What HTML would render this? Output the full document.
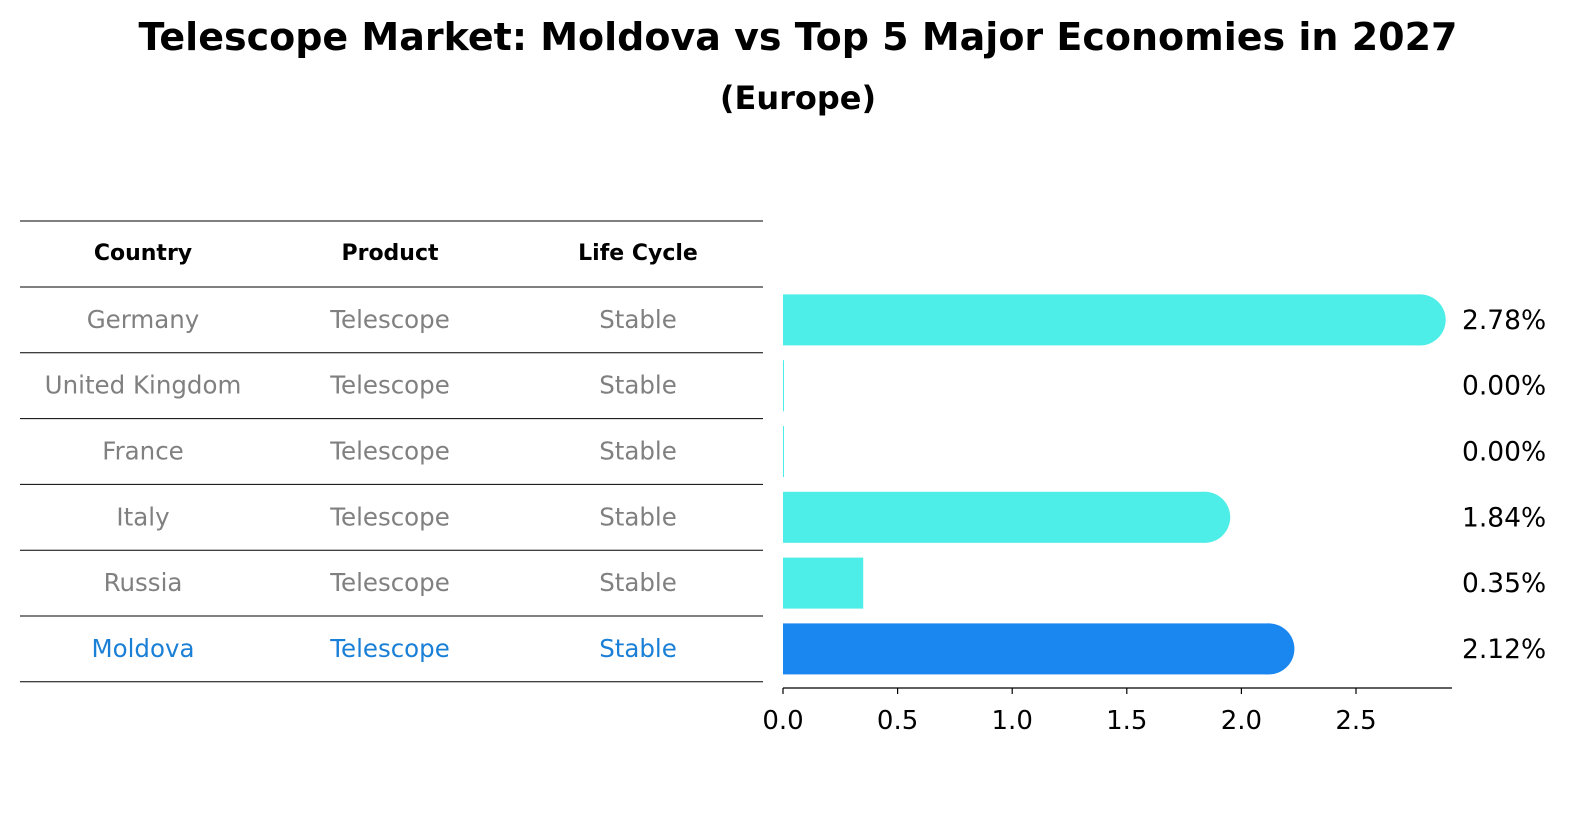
<!DOCTYPE html>
<html><head><meta charset="utf-8">
<style>
html,body{margin:0;padding:0;width:1586px;height:823px;overflow:hidden;background:#fff;font-family:"DejaVu Sans","Liberation Sans",sans-serif;}
svg{display:block}
</style></head>
<body>
<svg width="1586" height="823" viewBox="0 0 1586 823">
<text x="798" y="50" text-anchor="middle" font-size="38" font-weight="bold" font-family="DejaVu Sans, sans-serif">Telescope Market: Moldova vs Top 5 Major Economies in 2027</text>
<text x="798" y="109" text-anchor="middle" font-size="32" font-weight="bold" font-family="DejaVu Sans, sans-serif">(Europe)</text>
<g id="table"></g>
<g id="bars"></g>
</svg>
<script>
const countries=["Germany","United Kingdom","France","Italy","Russia","Moldova"];
const products=["Telescope","Telescope","Telescope","Telescope","Telescope","Telescope"];
const lifecycles=["Stable","Stable","Stable","Stable","Stable","Stable"];
const values=[2.78,0.00,0.00,1.84,0.35,2.12];
const ticks=[0.0,0.5,1.0,1.5,2.0,2.5];
const NS="http://www.w3.org/2000/svg";
function mk(tag,attrs,parent,txt){const e=document.createElementNS(NS,tag);for(const k in attrs)e.setAttribute(k,attrs[k]);if(txt!==undefined)e.textContent=txt;parent.appendChild(e);return e;}
const x0=783,pxPerUnit=229.2;
const xs=v=>x0+v*pxPerUnit;
const rowTop=287,rowH=65.8;
const yc=i=>rowTop+rowH*i+rowH/2;
const table=document.getElementById('table');
const colX=[143,390,638];
const headers=["Country","Product","Life Cycle"];
for(let j=0;j<3;j++){
  const t=mk('text',{x:colX[j],y:260,'text-anchor':'middle','font-size':22,'font-weight':'bold','font-family':'DejaVu Sans, sans-serif'},table,headers[j]);
  
  
}
for(let k=0;k<=countries.length+1;k++){
  const y=k===0?221:rowTop+rowH*(k-1);
  const l=mk('line',{x1:20,x2:763,y1:y,y2:y,stroke:'#000','stroke-width':1},table);
  
  
}
countries.forEach((c,i)=>{
  const col=c==="Moldova"?"#1a7fd6":"#808080";
  [c,products[i],lifecycles[i]].forEach((v,j)=>{
    const t=mk('text',{x:colX[j],y:yc(i)+8,'text-anchor':'middle','font-size':24.5,fill:col,'font-family':'DejaVu Sans, sans-serif'},table,v);
    
    
  });
});
const bars=document.getElementById('bars');
const bh=51,r=25.5;
values.forEach((v,i)=>{
  const col=countries[i]==="Moldova"?"#1a86f0":"#4dede8";
  const top=yc(i)-bh/2;
  const w=Math.max(xs(v)-x0,1);
  const g=mk('g',{},bars);
  
  
  mk('rect',{x:x0,y:top,width:w,height:bh,fill:col},g);
  if(v>1) mk('circle',{cx:xs(v),cy:yc(i),r:r,fill:col},g);
  const t=mk('text',{x:1462,y:yc(i)+9,'font-size':26.5,'font-family':'DejaVu Sans, sans-serif'},bars,v.toFixed(2)+'%');
  
  
});
const ax=mk('line',{x1:x0,x2:1452,y1:688,y2:688,stroke:'#000','stroke-width':1.3},bars);


ticks.forEach(tv=>{
  mk('line',{x1:xs(tv),x2:xs(tv),y1:688,y2:694,stroke:'#000','stroke-width':1.2},bars);
  const t=mk('text',{x:xs(tv),y:729,'text-anchor':'middle','font-size':26,'font-family':'DejaVu Sans, sans-serif'},bars,tv.toFixed(1));
  
  
});
</script>
</body></html>
